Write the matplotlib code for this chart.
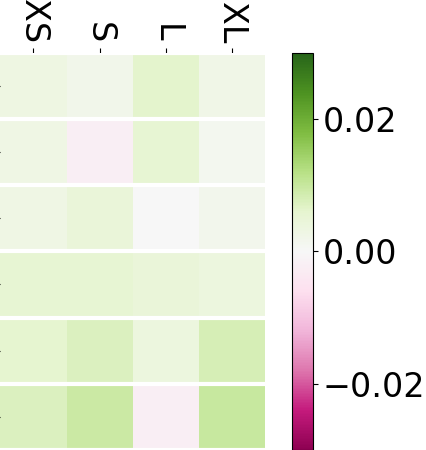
import numpy as np
import matplotlib
matplotlib.use("Agg")
import matplotlib.pyplot as plt

columns = ["XS", "S", "L", "XL"]
row_labels = ["", "", "", "", "", ""]
row1 = [0.0032, 0.0020, 0.0063, 0.0025]
row2 = [0.0030, -0.0025, 0.0055, 0.0014]
row3 = [0.0030, 0.0046, -0.0002, 0.0018]
row4 = [0.0055, 0.0055, 0.0045, 0.0039]
row5 = [0.0060, 0.0073, 0.0039, 0.0082]
row6 = [0.0073, 0.0094, -0.0025, 0.0099]

data = np.array([row1, row2, row3, row4, row5, row6])

W, H = 427, 450
fig = plt.figure(figsize=(W / 100, H / 100), dpi=100)

ax = fig.add_axes([0.4 / W, 0.0, (265 - 0.4) / W, (450 - 52.7) / H])
mesh = ax.pcolormesh(data, cmap="PiYG", vmin=-0.03, vmax=0.03)
ax.set_xlim(0, data.shape[1])
ax.set_ylim(data.shape[0], 0)
for s in ax.spines.values():
    s.set_visible(False)

ax.xaxis.tick_top()
ax.set_xticks(np.arange(data.shape[1]) + 0.5)
ax.set_xticklabels(columns, rotation=270, fontsize=24)
ax.set_yticks(np.arange(data.shape[0]) + 0.5)
ax.set_yticklabels(row_labels)

for i in range(data.shape[0] + 1):
    ax.axhline(i, color="white", lw=3)

cax = fig.add_axes([292.3 / W, 0.0, 20.4 / W, (450 - 52.7) / H])
cb = fig.colorbar(mesh, cax=cax)
cb.set_ticks([-0.02, 0.0, 0.02])
cb.ax.tick_params(labelsize=24)

fig.savefig("out.png", dpi=100)
